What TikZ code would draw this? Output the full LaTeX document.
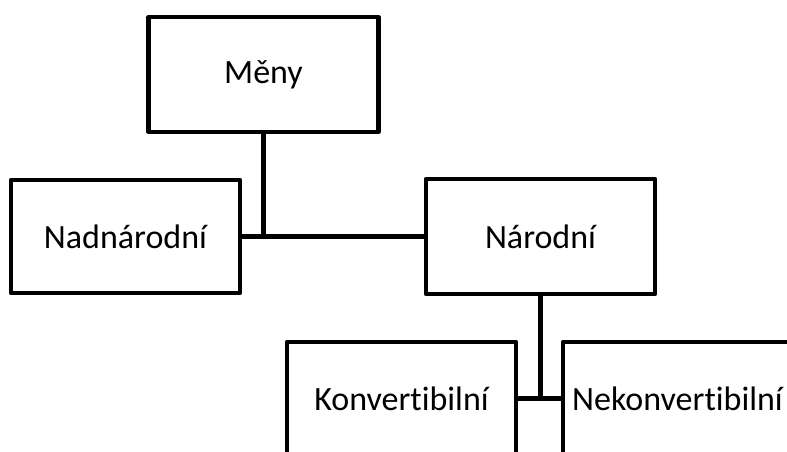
\documentclass[tikz,border=0pt]{standalone}
\usepackage{fontspec}
\setmainfont{Carlito}[Ligatures=NoCommon]
\begin{document}
\begin{tikzpicture}[x=1pt,y=-1pt,
  box/.style={draw=black, line width=4.2pt, line join=round, inner sep=0pt, minimum width=229pt, font=\fontsize{34}{40}\selectfont},
  conn/.style={draw=black, line width=4.2pt}]
\useasboundingbox (0,0) rectangle (787,451);
\clip (0,0) rectangle (787,451);
\node[box, minimum height=115pt, minimum width=230pt] (meny) at (263.5,74.5) {Měny};
\node[box, minimum height=113pt] (nad) at (125.5,236.5) {Nadnárodní};
\node[box, minimum height=115pt] (nar) at (540.5,236.5) {Národní};
\node[box, minimum height=113pt] (konv) at (401.5,398.5) {Konvertibilní};
\node[box, minimum height=113pt] (nekonv) at (677.5,398.5) {Nekonvertibilní};
\draw[conn] (meny.south) -- (meny.south |- nad.east);
\draw[conn] (nad.east) -- (nar.west);
\draw[conn] (nar.south) -- (nar.south |- konv.east);
\draw[conn] (konv.east) -- (nekonv.west);
\end{tikzpicture}
\end{document}
